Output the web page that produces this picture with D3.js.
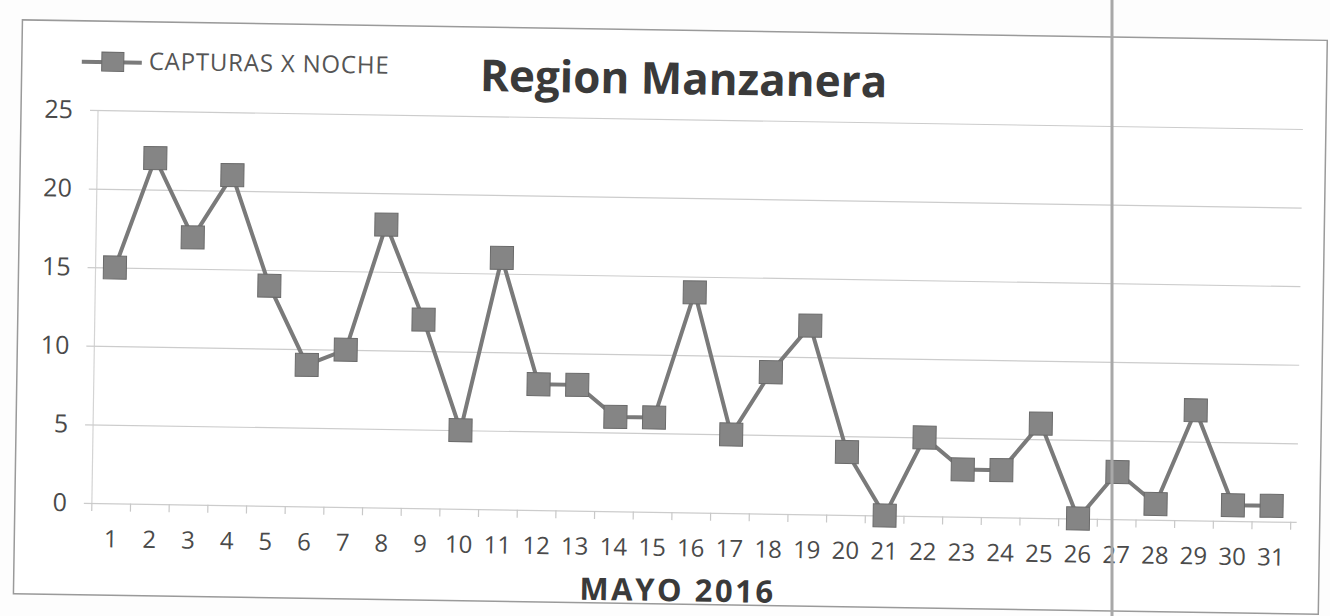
<!DOCTYPE html>
<html>
<head>
<meta charset="utf-8">
<script src="https://cdn.jsdelivr.net/npm/d3@7"></script>
<style>
  body { margin: 0; background: #fff; }
  text { font-family: "Open Sans", "Noto Sans", sans-serif; }
</style>
</head>
<body>
<svg id="chart" width="1330" height="616"></svg>
<script>
const dias = d3.range(1, 32).map(String);
const capturas = [15, 22, 17, 21, 14, 9, 10, 18, 12, 5, 16, 8, 8, 6, 6, 14, 5, 9, 12, 4, 0, 5, 3, 3, 6, 0, 3, 1, 7, 1, 1];
const yTicks = [0, 5, 10, 15, 20, 25];
const titulo = "Region Manzanera";
const serie = "CAPTURAS X NOCHE";
const ejeX = "MAYO 2016";

const svg = d3.select("#chart");
const width = +svg.attr("width");
const height = +svg.attr("height");

svg.append("rect").attr("width", width).attr("height", height).attr("fill", "#fdfdfd");

// the scan is slightly tilted
const page = svg.append("g").attr("transform", "rotate(0.9, 665, 308)");

page.append("rect")
  .attr("x", 18).attr("y", 30)
  .attr("width", 1305).attr("height", 574)
  .attr("fill", "#fff")
  .attr("stroke", "#9a9a9a")
  .attr("stroke-width", 1.5);

const x = d3.scaleBand().domain(dias).range([95, 1294]);
const y = d3.scaleLinear().domain([0, 25]).range([512, 119]);

// gridlines + y labels
const yAxis = page.append("g")
  .attr("transform", "translate(95,0)")
  .call(d3.axisLeft(y).tickValues(yTicks).tickSize(-(1300 - 95)).tickPadding(25));
yAxis.select(".domain")
  .attr("d", `M0,${y(0)}V${y(25)}`)
  .attr("stroke", "#d4d4d4")
  .attr("stroke-width", 1.2);
yAxis.selectAll(".tick line")
  .attr("x1", -8)
  .attr("stroke", "#cccccc")
  .attr("stroke-width", 1.2);
yAxis.selectAll(".tick text")
  .attr("fill", "#4a4a4a")
  .style("font-size", "25px");

// category tick marks below the axis
page.append("g")
  .selectAll(null)
  .data(dias.concat(["end"]))
  .enter()
  .append("line")
  .attr("x1", (d, i) => 95 + i * x.step())
  .attr("x2", (d, i) => 95 + i * x.step())
  .attr("y1", y(0))
  .attr("y2", y(0) + 8)
  .attr("stroke", "#c8c8c8")
  .attr("stroke-width", 1.2);

// x labels
page.append("g")
  .selectAll(null)
  .data(dias)
  .enter()
  .append("text")
  .text((d) => d)
  .attr("x", (d) => x(d) + x.bandwidth() / 2)
  .attr("y", y(0) + 44)
  .attr("text-anchor", "middle")
  .attr("fill", "#4a4a4a")
  .style("font-size", "24px");

page.append("text")
  .text(ejeX)
  .attr("x", 682)
  .attr("y", 601)
  .attr("text-anchor", "middle")
  .attr("fill", "#3a3a3a")
  .style("font-size", "31px")
  .style("letter-spacing", "2.5px")
  .style("font-weight", "bold");

page.append("text")
  .text(titulo)
  .attr("x", 680)
  .attr("y", 94)
  .attr("text-anchor", "middle")
  .attr("fill", "#3a3a3a")
  .style("font-size", "44px")
  .style("font-weight", "bold");

// series line
const line = d3.line()
  .x((d, i) => x(dias[i]) + x.bandwidth() / 2)
  .y((d) => y(d));

page.append("path")
  .datum(capturas)
  .attr("d", line)
  .attr("fill", "none")
  .attr("stroke", "#7a7a7a")
  .attr("stroke-width", 4);

const ms = 23;
page.append("g")
  .selectAll(null)
  .data(capturas)
  .enter()
  .append("rect")
  .attr("x", (d, i) => x(dias[i]) + x.bandwidth() / 2 - ms / 2)
  .attr("y", (d) => y(d) - ms / 2)
  .attr("width", ms)
  .attr("height", ms)
  .attr("fill", "#858585")
  .attr("stroke", "#6a6a6a")
  .attr("stroke-width", 1);

// legend
const legend = page.append("g").attr("transform", "translate(78,71)");
legend.append("line")
  .attr("x1", 0).attr("x2", 60)
  .attr("stroke", "#7a7a7a").attr("stroke-width", 4);
legend.append("rect")
  .attr("x", 20).attr("y", -10).attr("width", 22).attr("height", 19)
  .attr("fill", "#858585").attr("stroke", "#6a6a6a");
legend.append("text")
  .text(serie)
  .attr("x", 67).attr("y", 7)
  .attr("fill", "#555")
  .style("font-size", "24px")
  .style("letter-spacing", "0.8px");

// scanner fold line
svg.append("line")
  .attr("x1", 1112).attr("x2", 1112).attr("y1", 0).attr("y2", height)
  .attr("stroke", "#a8a8a8").attr("stroke-width", 3);
</script>
</body>
</html>
